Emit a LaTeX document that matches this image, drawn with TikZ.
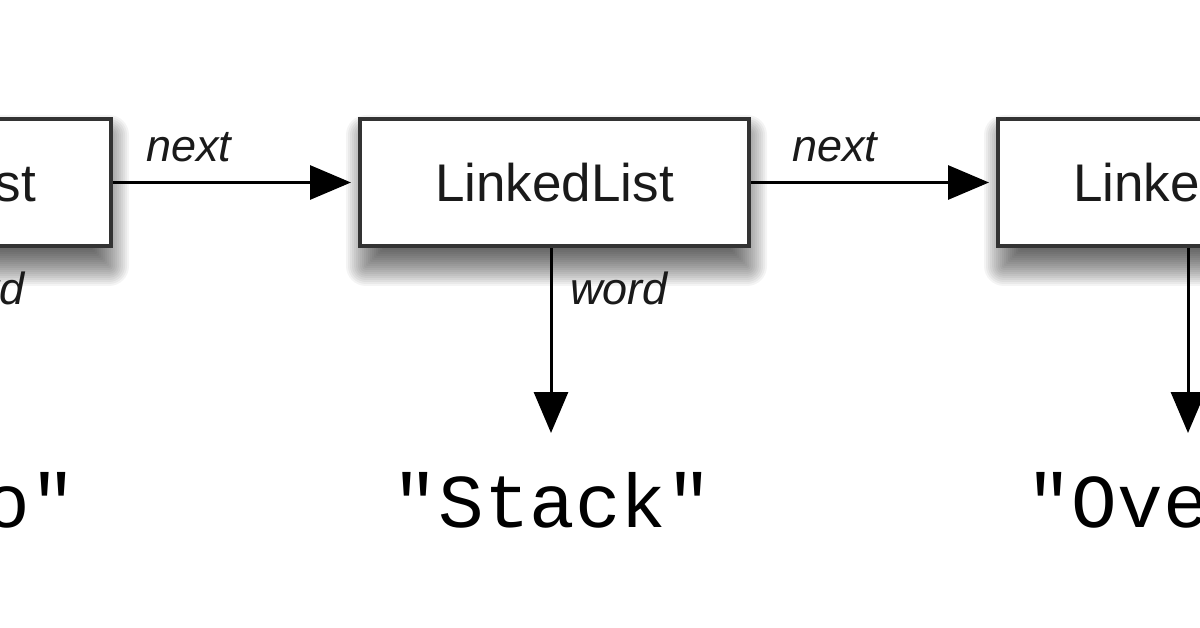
\documentclass[tikz,border=0pt]{standalone}
\usepackage{fontspec}
\setmainfont{Liberation Sans}
\newfontfamily\monofont{Liberation Mono}
\usetikzlibrary{arrows.meta,backgrounds}
\definecolor{boxline}{HTML}{333333}
\definecolor{txt}{HTML}{1a1a1a}
\tikzset{
  listbox/.style={draw=boxline, line width=4pt, fill=white, minimum width=389pt, minimum height=127pt, inner sep=0pt,
    font=\fontsize{53pt}{60pt}\selectfont, text=txt},
  shadowlayer/.style={fill=black, fill opacity=0.045, draw=none},
  arr/.style={draw=black, line width=3pt, -{Triangle[length=41pt,width=34pt]}},
  lbl/.style={font=\fontsize{45pt}{50pt}\selectfont\itshape, text=txt, inner sep=0pt},
  strng/.style={font=\fontsize{76pt}{80pt}\selectfont\monofont, text=black, inner sep=0pt}
}
\begin{document}
\begin{tikzpicture}[x=1pt,y=-1pt]
\useasboundingbox (0,0) rectangle (1200,628);
\clip (0,0) rectangle (1200,628);
% boxes
\node[listbox] (L) at (-83.5,182.5) {LinkedList};
\node[listbox] (M) at (554.5,182.5) {LinkedList};
\node[listbox] (R) at (1192.5,182.5) {LinkedList};
% soft shadows
\begin{scope}[on background layer]
\fill[white] (0,0) rectangle (1200,628);
\foreach \n in {L,M,R}{
  \foreach \k in {0,...,20}{
    \pgfmathsetmacro\r{20-2*\k}
    \pgfmathsetmacro\xa{8-\r}
    \pgfmathsetmacro\ya{-18-\r}
    \pgfmathsetmacro\xb{-4+\r}
    \pgfmathsetmacro\yb{-18+\r}
    \pgfmathsetmacro\rc{max(\r,1)}
    \path[shadowlayer, rounded corners=\rc pt] ([shift={(\xa pt,\ya pt)}]\n.south west) rectangle ([shift={(\xb pt,\yb pt)}]\n.north east);
  }
}
\end{scope}
% word arrow end points
\coordinate (wL) at (-87,433);
\coordinate (wM) at (551,433);
\coordinate (wR) at (1188,433);
% next arrows
\draw[arr, shorten >=7pt] (L.east) -- (M.west);
\draw[arr, shorten >=7pt] (M.east) -- (R.west);
\node[lbl, anchor=base west] (nL) at ([xshift=33pt, yshift=20.5pt]L.east) {next};
\node[lbl, anchor=base west] (nM) at ([xshift=41pt, yshift=20.5pt]M.east) {next};
% word arrows
\draw[arr] (L.south -| wL) -- (wL);
\draw[arr] (M.south -| wM) -- (wM);
\draw[arr] (R.south -| wR) -- (wR);
\node[lbl, anchor=base west] (wdL) at (-73,305) {word};
\node[lbl, anchor=base west] (wdM) at (570,305) {word};
% strings
\node[strng, anchor=base east] (sL) at (76,527) {o"};
\node[strng, anchor=base] (sM) at (552.5,527) {"Stack"};
\node[strng, anchor=base west] (sR) at (1026,527) {"Ove};
\end{tikzpicture}
\end{document}
